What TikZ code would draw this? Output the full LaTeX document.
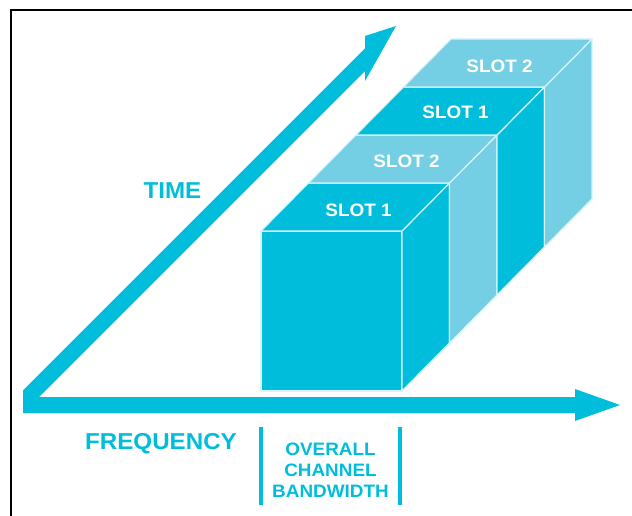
\documentclass[tikz,border=0pt]{standalone}
\usepackage{fontspec}
\setmainfont{Liberation Sans}[FakeStretch=1.05]
\usetikzlibrary{positioning}
\definecolor{tdark}{HTML}{00BEDB}
\definecolor{tlight}{HTML}{74CFE4}
\definecolor{tedge}{HTML}{D8F3F9}
\tikzstyle{darkface} = [fill=tdark, draw=tedge, line width=1.2pt, line join=round]
\tikzstyle{lightface} = [fill=tlight, draw=tedge, line width=1.2pt, line join=round]
\tikzstyle{slotlabel} = [text=white, font=\fontsize{18}{18}\selectfont\bfseries]
\tikzstyle{axislabel} = [text=tdark, font=\fontsize{23}{23}\selectfont\bfseries]
\tikzstyle{bar} = [draw=tdark, line width=4.5pt]

\begin{document}
\begin{tikzpicture}[x=1pt, y=-1pt,
	bwlabel/.style={text=tdark, align=center,
		font=\fontsize{18}{21}\selectfont\bfseries}]
	\useasboundingbox (0,0) rectangle (632,516);
	%% frame
	\draw[line width=2pt] (11,516) -- (11,10) -- (632,10);
	%% axes
	\fill[tdark] (23,413) -- (23,390.4) -- (365,48.4) -- (365,36) -- (396,26)
		-- (365,81) -- (365,71) -- (39,397) -- (575,397) -- (575,389)
		-- (620,405) -- (575,421) -- (575,413) -- cycle;
	%% block: front, side strips, top faces
	\path[darkface] (261,231) rectangle (402,391);
	\path[darkface] (402,231) -- (449.5,183) -- (449.5,343) -- (402,391) -- cycle;
	\path[lightface] (449.5,183) -- (497,135) -- (497,295) -- (449.5,343) -- cycle;
	\path[darkface] (497,135) -- (544.5,87) -- (544.5,247) -- (497,295) -- cycle;
	\path[lightface] (544.5,87) -- (592,39) -- (592,199) -- (544.5,247) -- cycle;
	\path[darkface] (261,231) -- (402,231) -- (449.5,183) -- (308.5,183) -- cycle;
	\path[lightface] (308.5,183) -- (449.5,183) -- (497,135) -- (356,135) -- cycle;
	\path[darkface] (356,135) -- (497,135) -- (544.5,87) -- (403.5,87) -- cycle;
	\path[lightface] (403.5,87) -- (544.5,87) -- (592,39) -- (451,39) -- cycle;
	%% slot names
	\node[slotlabel] (slotA) at (358.5,210) {SLOT 1};
	\node[slotlabel] (slotB) at (406.5,161.5) {SLOT 2};
	\node[slotlabel] (slotC) at (455.5,112.5) {SLOT 1};
	\node[slotlabel] (slotD) at (499.5,66.5) {SLOT 2};
	%% axis names
	\node[axislabel] (time) at (172.5,190.5) {TIME};
	\node[axislabel] (freq) at (161,443.5) {FREQUENCY};
	%% bandwidth
	\node[bwlabel] (bw) at (330.5,470) {OVERALL\\CHANNEL\\BANDWIDTH};
	\coordinate (bwl) at (261,427);
	\coordinate (bwr) at (400,427);
	\path[bar] (bwl) -- ++(0,78);
	\path[bar] (bwr) -- ++(0,78);
\end{tikzpicture}
\end{document}
